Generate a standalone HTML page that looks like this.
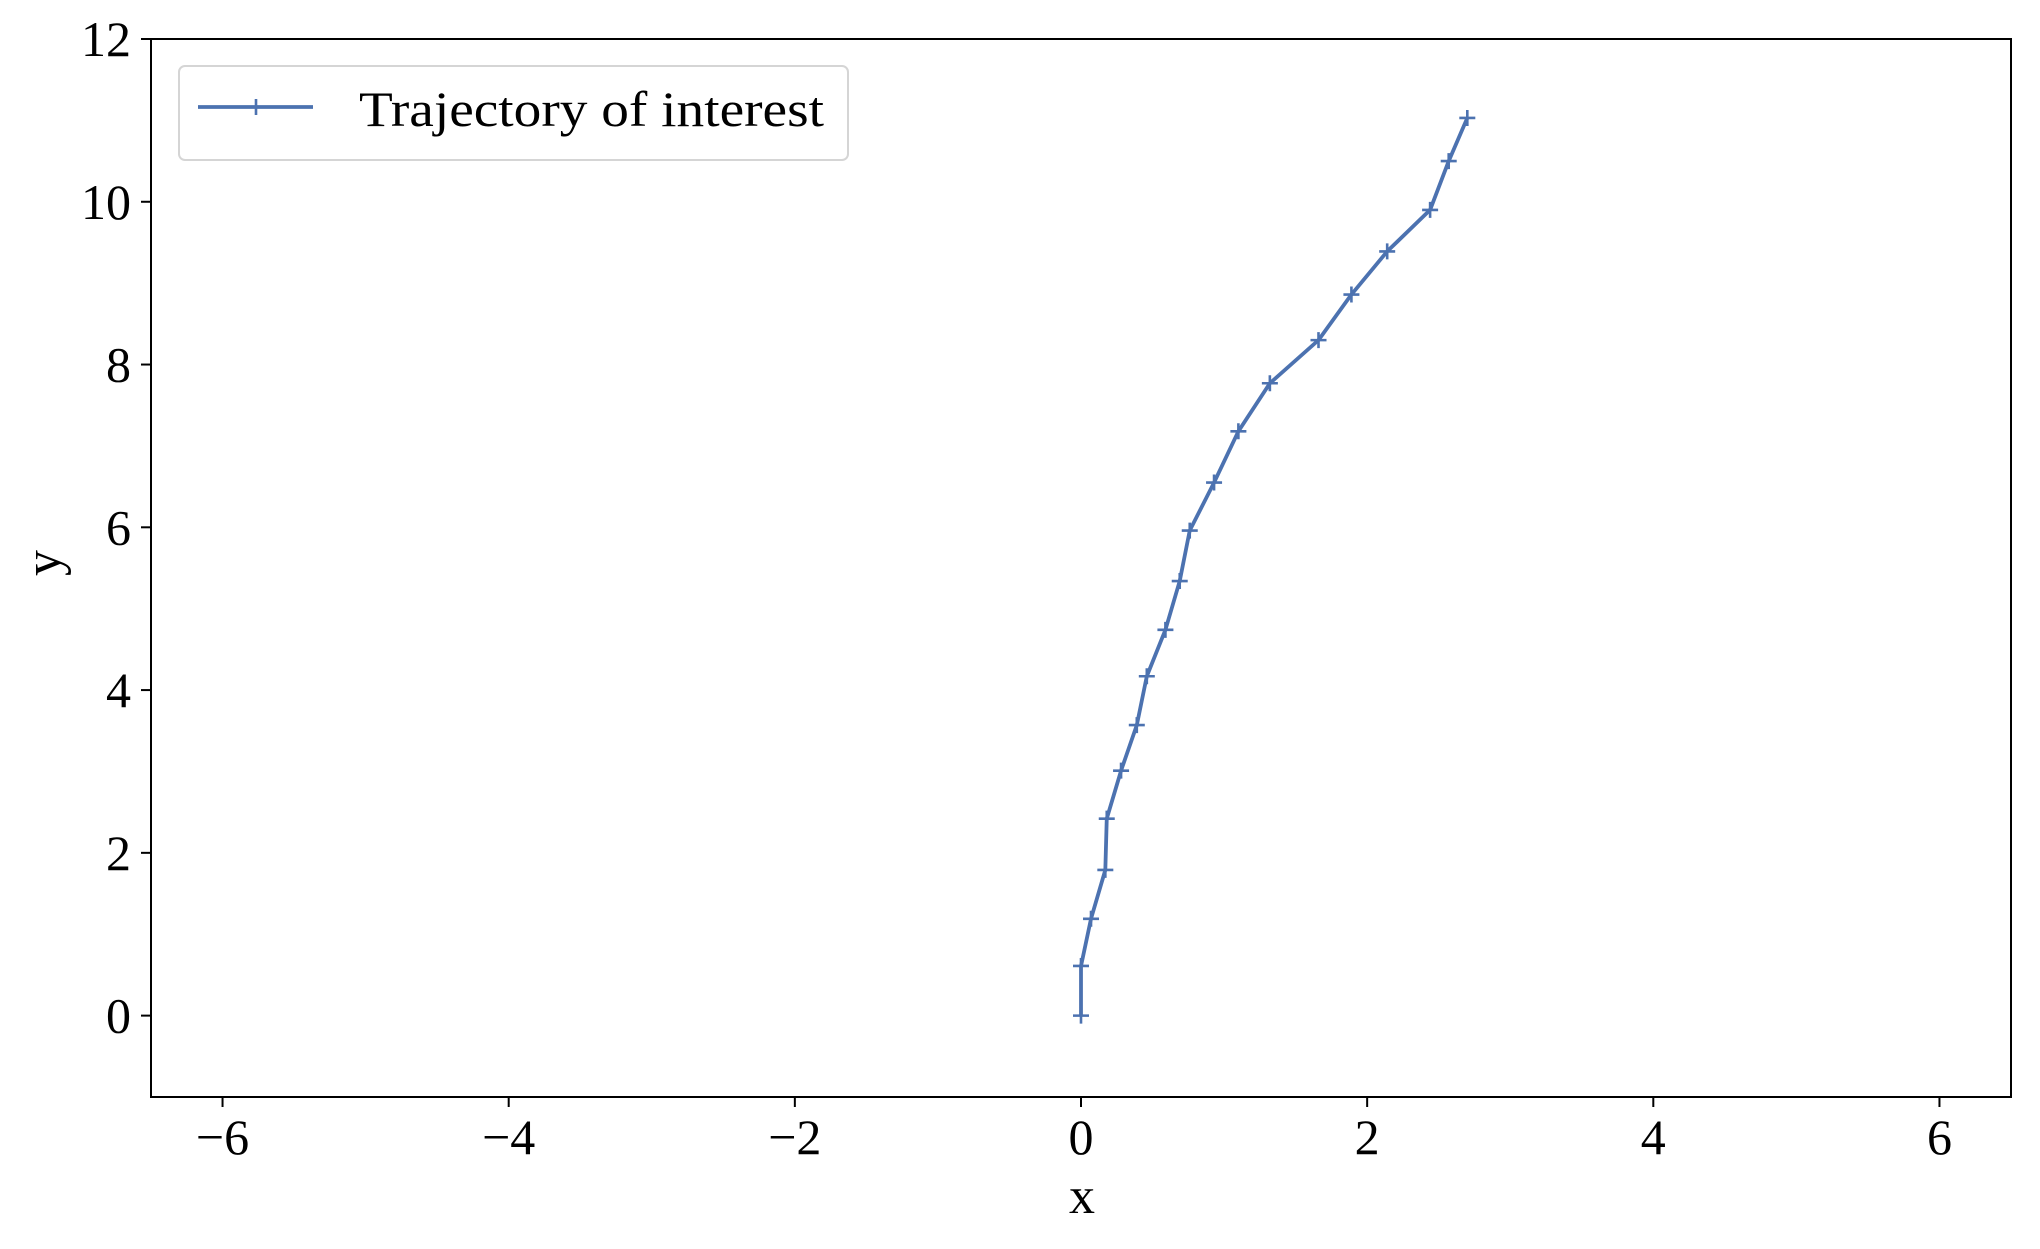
<!DOCTYPE html>
<html><head><meta charset="utf-8"><style>
html,body{margin:0;padding:0;background:#fff;}
svg text{font-family:"Liberation Serif",serif;fill:#000;}
</style></head><body>
<svg id="chart" width="2040" height="1244" xmlns="http://www.w3.org/2000/svg">
<rect width="2040" height="1244" fill="#fff"/>
<g id="plot"></g>
</svg>
<script>
const xValues=[0,0,0.07,0.17,0.18,0.28,0.39,0.46,0.59,0.69,0.76,0.93,1.10,1.32,1.66,1.89,2.14,2.44,2.57,2.70];
const yValues=[0,0.61,1.19,1.79,2.42,3.01,3.57,4.17,4.74,5.34,5.96,6.55,7.18,7.77,8.30,8.86,9.39,9.90,10.50,11.03];
const xTicks=[-6,-4,-2,0,2,4,6];
const yTicks=[0,2,4,6,8,10,12];
const L=151,R=2011,T=39,B=1097;
const xMin=-6.5,xMax=6.5,yMin=-1,yMax=12;
function sx(v){return L+(v-xMin)/(xMax-xMin)*(R-L);}
function sy(v){return B-(v-yMin)/(yMax-yMin)*(B-T);}
const NS="http://www.w3.org/2000/svg";
const g=document.getElementById('plot');
function mk(tag,attrs,parent){const e=document.createElementNS(NS,tag);for(const k in attrs)e.setAttribute(k,attrs[k]);(parent||g).appendChild(e);return e;}
const pts=xValues.map((x,i)=>sx(x)+','+sy(yValues[i])).join(' ');
const line=mk('polyline',{points:pts,fill:'none',stroke:'#4c72b0','stroke-width':3.8,'stroke-linejoin':'round'});


xValues.forEach((x,i)=>{
  const cx=sx(x),cy=sy(yValues[i]);
  const m=mk('path',{d:`M${cx-8},${cy}H${cx+8}M${cx},${cy-8}V${cy+8}`,stroke:'#4c72b0','stroke-width':2.6});
  
  
});
const frame=mk('rect',{x:L,y:T,width:R-L,height:B-T,fill:'none',stroke:'#000','stroke-width':2});


xTicks.forEach(t=>{
  const x=sx(t);
  mk('line',{x1:x,x2:x,y1:B,y2:B+10,stroke:'#000','stroke-width':2});
  const tx=mk('text',{x:x,y:1154,'text-anchor':'middle','font-size':50});
  tx.textContent=t<0?'\u2212'+Math.abs(t):String(t);
  
  
});
yTicks.forEach(t=>{
  const y=sy(t);
  mk('line',{x1:L-10,x2:L,y1:y,y2:y,stroke:'#000','stroke-width':2});
  const tx=mk('text',{x:131,y:y+17,'text-anchor':'end','font-size':50});
  tx.textContent=String(t);
  
  
});
const xl=mk('text',{x:1082,y:1213,'text-anchor':'middle','font-size':52});
xl.textContent='x';


const yl=mk('text',{x:0,y:0,'text-anchor':'middle','font-size':52,transform:'translate(60,563) rotate(-90)'});
yl.textContent='y';


const lg=mk('g',{});


mk('rect',{x:179,y:66,width:669,height:94,rx:6,fill:'#fff','fill-opacity':0.8,stroke:'#d5d5d5','stroke-width':2},lg);
mk('line',{x1:198,x2:313,y1:107,y2:107,stroke:'#4c72b0','stroke-width':3.8},lg);
mk('path',{d:'M248,107H264M256,99V115',stroke:'#4c72b0','stroke-width':2.6},lg);
const lt=mk('text',{x:359,y:126,'font-size':50,textLength:465,lengthAdjust:'spacingAndGlyphs'},lg);
lt.textContent='Trajectory of interest';


</script>
</body></html>
